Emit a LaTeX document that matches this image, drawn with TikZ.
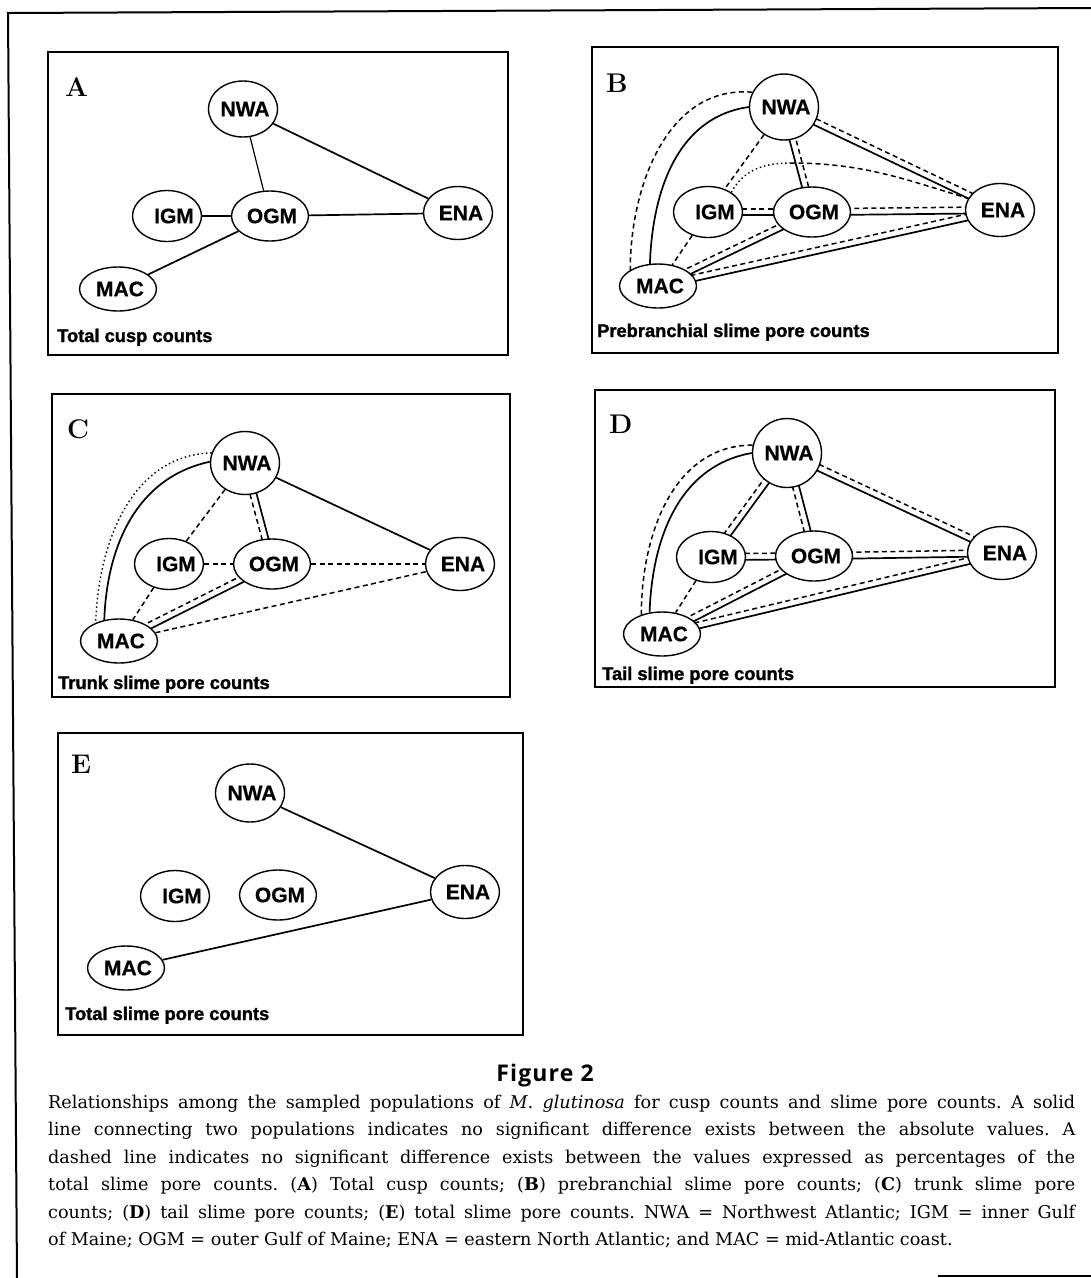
\documentclass[tikz,border=0pt]{standalone}
\usepackage{fontspec}
\newfontfamily\lsans{Liberation Sans}[BoldFeatures={FakeBold=0.5}]
\newfontfamily\hsans{Liberation Sans}[BoldFeatures={FakeBold=1.6}]
\newfontfamily\osans{Open Sans}[LetterSpace=5]
\newfontfamily\capfont{DejaVu Serif}
\usetikzlibrary{shapes.geometric,calc,backgrounds}
\newcommand\dpair[4]{%
  \draw[#3] ($(#1)!3.2pt!90:(#2)$) -- ($(#2)!3.2pt!-90:(#1)$);
  \draw[#4] ($(#1)!3.2pt!-90:(#2)$) -- ($(#2)!3.2pt!90:(#1)$);}
\tikzset{
  pop/.style 2 args={ellipse, draw, fill=white, line width=1.4pt, inner sep=0pt,
    minimum width=#1, minimum height=#2},
  lbl/.style={font=\lsans\bfseries\fontsize{21}{24}\selectfont, inner sep=0pt},
  nwaN/.style={pop={69pt}{#1}, label={[lbl,xshift=2pt]center:NWA}},
  igmN/.style={pop={69pt}{51pt}, label={[lbl,xshift=7pt]center:IGM}},
  ogmN/.style={pop={77pt}{50pt}, label={[lbl,xshift=2pt]center:OGM}},
  enaN/.style={pop={69pt}{53pt}, label={[lbl,xshift=3pt]center:ENA}},
  macN/.style={pop={77pt}{44pt}, label={[lbl,xshift=2pt]center:MAC}},
  panelbox/.style={draw, line width=1.6pt},
  letter/.style={font=\bfseries\fontsize{27}{32}\selectfont, inner sep=0pt, anchor=base west},
  ptitle/.style={font=\hsans\bfseries\fontsize{18.3}{21}\selectfont, inner sep=0pt, anchor=base west},
  capline/.style={font=\capfont\frenchspacing\fontsize{17.6}{27}\selectfont, inner sep=0pt, anchor=base west},
  sedge/.style={line width=1.7pt},
  dedge/.style={line width=1.5pt, dash pattern=on 5pt off 3.5pt},
  dotedge/.style={line width=1.4pt, dash pattern=on 1.5pt off 2.8pt},
}
\begin{document}
\begin{tikzpicture}[x=1pt,y=-1pt]
\useasboundingbox (0,0) rectangle (1091,1278);
% outer frame
\draw[line width=2pt] (17,1278) -- (8,13) -- (1091,8);
\draw[line width=1.5pt] (938,1276) -- (1091,1276);
% panel boxes
\draw[panelbox] (48,52) rectangle (508,355);
\draw[panelbox] (592,47) rectangle (1058,353);
\draw[panelbox] (52,394) rectangle (510,697);
\draw[panelbox] (595,390) rectangle (1055,687);
\draw[panelbox] (58,733) rectangle (523,1035);
% letters
\node[letter] (LA) at (65,96) {A};
\node[letter] (LB) at (606,92) {B};
\node[letter] (LC) at (67,438) {C};
\node[letter] (LD) at (609,433) {D};
\node[letter] (LE) at (71,773) {E};
% panel titles
\node[ptitle] (TA) at (57,342) {Total cusp counts};
\node[ptitle] (TB) at (597,337) {Prebranchial slime pore counts};
\node[ptitle] (TC) at (58,689) {Trunk slime pore counts};
\node[ptitle] (TD) at (602,680) {Tail slime pore counts};
\node[ptitle] (TE) at (65,1020) {Total slime pore counts};
% panel A nodes
\node[nwaN=56pt] (ANWA) at (243,109) {};
\node[igmN] (AIGM) at (167,216) {};
\node[ogmN] (AOGM) at (270,216) {};
\node[enaN] (AENA) at (458,213) {};
\node[macN] (AMAC) at (118,289) {};
% panel B nodes
\node[nwaN=66pt] (BNWA) at (784,107) {};
\node[igmN] (BIGM) at (708,212) {};
\node[ogmN] (BOGM) at (812,212) {};
\node[enaN] (BENA) at (1000,210) {};
\node[macN] (BMAC) at (658,286) {};
% panel C nodes
\node[nwaN=63pt] (CNWA) at (245,463) {};
\node[igmN] (CIGM) at (169,564) {};
\node[ogmN] (COGM) at (272,564) {};
\node[enaN] (CENA) at (460,564) {};
\node[macN] (CMAC) at (119,641) {};
% panel D nodes
\node[nwaN=69pt] (DNWA) at (787,453) {};
\node[igmN] (DIGM) at (711,557) {};
\node[ogmN] (DOGM) at (814,556) {};
\node[enaN] (DENA) at (1002,553) {};
\node[macN] (DMAC) at (662,634) {};
% panel E nodes
\node[nwaN=58pt] (ENWA) at (250,793) {};
\node[igmN] (EIGM) at (175,896) {};
\node[ogmN] (EOGM) at (278,895) {};
\node[enaN] (EENA) at (465,892) {};
\node[macN] (EMAC) at (126,968) {};
% caption
\node[font=\osans\bfseries\fontsize{23}{27}\selectfont, inner sep=0pt, anchor=base] (fig) at (545,1081) {Figure 2};
\node[capline] (cap1) at (48,1108) {\makebox[1027pt][s]{Relationships among the sampled populations of \textit{M. glutinosa} for cusp counts and slime pore counts. A solid}};
\node[capline] (cap2) at (48,1135.5) {\makebox[1027pt][s]{line connecting two populations indicates no significant difference exists between the absolute values. A}};
\node[capline] (cap3) at (48,1163) {\makebox[1027pt][s]{dashed line indicates no significant difference exists between the values expressed as percentages of the}};
\node[capline] (cap4) at (48,1190.5) {\makebox[1027pt][s]{total slime pore counts. (\textbf{A}) Total cusp counts; (\textbf{B}) prebranchial slime pore counts; (\textbf{C}) trunk slime pore}};
\node[capline] (cap5) at (48,1218) {\makebox[1027pt][s]{counts; (\textbf{D}) tail slime pore counts; (\textbf{E}) total slime pore counts. NWA = Northwest Atlantic; IGM = inner Gulf}};
\node[capline] (cap6) at (48,1245.5) {of Maine; OGM = outer Gulf of Maine; ENA = eastern North Atlantic; and MAC = mid-Atlantic coast.};
\coordinate (Bpk) at (790,163);

\begin{pgfonlayer}{background}
\fill[white] (0,0) rectangle (1091,1278);
% A
\draw[sedge, line width=1.2pt] (ANWA) -- (AOGM);
\draw[sedge] (ANWA) -- (AENA);
\draw[sedge] (AIGM) -- (AOGM);
\draw[sedge] (AOGM) -- (AENA);
\draw[sedge] (AOGM) -- (AMAC);
% B
\draw[sedge] (BNWA.180) to[out=188,in=88] (BMAC.110);
\draw[dedge] (BNWA.155) to[out=175,in=90] (BMAC.150);
\draw[dedge] (BNWA) -- (BIGM);
\dpair{BOGM}{BNWA}{sedge}{dedge}
\dpair{BNWA}{BENA}{dedge}{sedge}
\draw[dotedge] (BIGM.40) to[out=62,in=180] (Bpk);
\draw[dedge] (Bpk) to[out=0,in=163] (BENA.160);
\dpair{BIGM}{BOGM}{dedge}{sedge}
\dpair{BOGM}{BENA}{dedge}{sedge}
\draw[dedge] (BIGM) -- (BMAC);
\dpair{BMAC}{BOGM}{dedge}{sedge}
\dpair{BMAC}{BENA}{dedge}{sedge}
% C
\draw[sedge] (CNWA.178) to[out=192,in=88] (CMAC.125);
\draw[dotedge] (CNWA.163) to[out=182,in=88] (CMAC.142);
\draw[dedge] (CNWA) -- (CIGM);
\dpair{COGM}{CNWA}{dedge}{sedge}
\draw[sedge] (CNWA) -- (CENA);
\draw[dedge] (CIGM) -- (COGM);
\draw[dedge] (COGM) -- (CENA);
\draw[dedge] (CIGM) -- (CMAC);
\dpair{CMAC}{COGM}{dedge}{sedge}
\draw[dedge] (CMAC) -- (CENA);
% D
\draw[sedge] (DNWA.180) to[out=190,in=88] (DMAC.120);
\draw[dedge] (DNWA.167) to[out=180,in=90] (DMAC.137);
\dpair{DIGM}{DNWA}{dedge}{sedge}
\dpair{DOGM}{DNWA}{dedge}{sedge}
\dpair{DNWA}{DENA}{dedge}{sedge}
\dpair{DIGM}{DOGM}{dedge}{sedge}
\dpair{DOGM}{DENA}{dedge}{sedge}
\draw[dedge] (DIGM) -- (DMAC);
\dpair{DMAC}{DOGM}{dedge}{sedge}
\dpair{DMAC}{DENA}{dedge}{sedge}
% E
\draw[sedge] (ENWA) -- (EENA);
\draw[sedge] (EENA) -- (EMAC);
\end{pgfonlayer}
\end{tikzpicture}
\end{document}
